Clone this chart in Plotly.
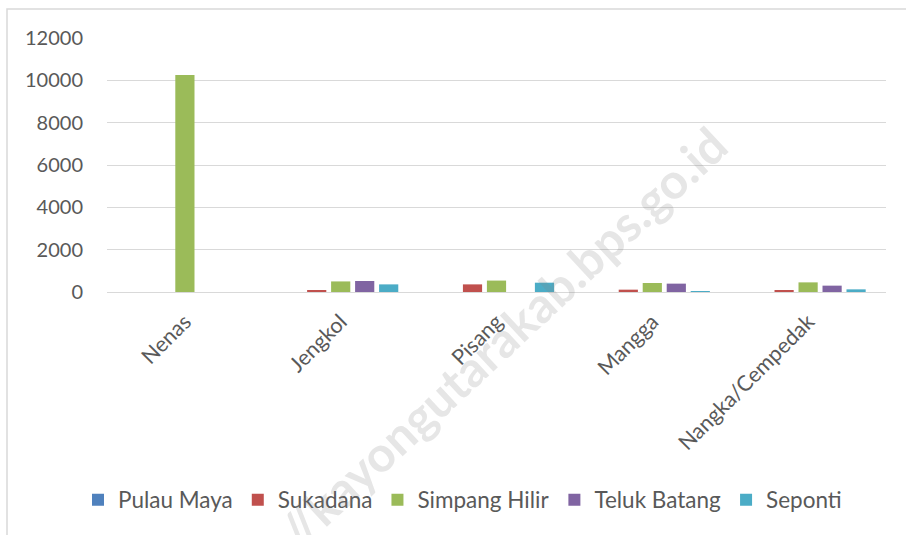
import plotly.graph_objects as go

categories = ["Nenas", "Jengkol", "Pisang", "Mangga", "Nangka/Cempedak"]
series_names = ["Pulau Maya", "Sukadana", "Simpang Hilir", "Teluk Batang", "Seponti"]
pulau_maya = [0, 0, 0, 0, 0]
sukadana = [0, 60, 360, 110, 60]
simpang_hilir = [10250, 500, 540, 425, 455]
teluk_batang = [0, 520, 0, 395, 300]
seponti = [0, 360, 440, 40, 125]
y_ticks = [0, 2000, 4000, 6000, 8000, 10000, 12000]

colors = ["#4F81BD", "#C0504D", "#9BBB59", "#8064A2", "#4BACC6"]
values = [pulau_maya, sukadana, simpang_hilir, teluk_batang, seponti]

fig = go.Figure()
for name, vals, col in zip(series_names, values, colors):
    fig.add_trace(go.Bar(name=name, x=categories, y=vals, marker=dict(color=col, line=dict(width=0))))

W, H = 906, 535
L, R, T, B = 107, 20, 38, 243
pw, ph = W - L - R, H - T - B

def px(x):
    return (x - L) / pw

def py(y):
    return (H - B - y) / ph

FONT = "Lato, Open Sans, sans-serif"

fig.update_layout(
    width=W, height=H,
    margin=dict(l=L, r=R, t=T, b=B),
    paper_bgcolor="white", plot_bgcolor="white",
    font=dict(family=FONT, color="#595959", size=21),
    barmode="group", bargap=0.23, bargroupgap=0.2,
    showlegend=True,
    legend=dict(orientation="h", x=px(78), xanchor="left", y=py(500), yanchor="middle",
                font=dict(size=22.5, color="#595959"), traceorder="normal"),
    xaxis=dict(tickangle=-45, showgrid=False, showline=False, ticks="",
               ticklabelstandoff=12, tickfont=dict(size=21.5, color="#595959")),
    yaxis=dict(range=[0, 12000], tickvals=y_ticks, tickformat="d", showgrid=True, gridcolor="#d9d9d9",
               gridwidth=1, zeroline=True, zerolinecolor="#d9d9d9", zerolinewidth=1,
               showline=False, ticks="", ticklabelstandoff=23,
               tickfont=dict(size=20, color="#595959")),
    shapes=[dict(type="rect", xref="paper", yref="paper",
                 x0=px(7), x1=px(W + 20), y0=py(9), y1=py(H + 20),
                 line=dict(color="#d9d9d9", width=1.5), fillcolor="rgba(0,0,0,0)", layer="below")],
    annotations=[dict(text="<b>http://kayongutarakab.bps.go.id</b>", xref="paper", yref="paper",
                      x=px(465), y=py(372), xanchor="center", yanchor="middle",
                      textangle=-43, showarrow=False,
                      font=dict(family=FONT, size=49, color="rgba(128,128,128,0.2)"))],
)

fig.write_html("out.html", config={"displayModeBar": False},
               post_script="document.body.style.margin='0';document.body.style.overflow='hidden';")
